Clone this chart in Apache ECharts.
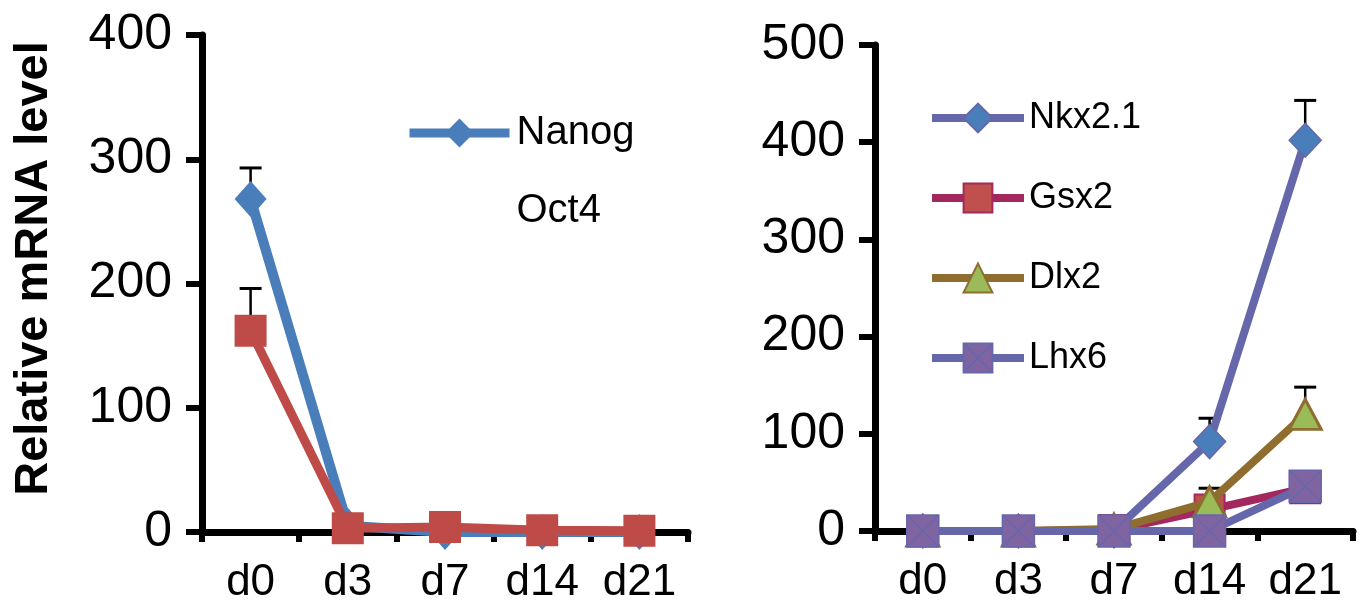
<!DOCTYPE html>
<html><head><meta charset="utf-8">
<script src="https://cdn.jsdelivr.net/npm/echarts@6/dist/echarts.min.js"></script>
<style>html,body{margin:0;padding:0;background:#fff}#c{width:1364px;height:614px}</style>
</head><body><div id="c"></div>
<script>
const categories = ['d0','d3','d7','d14','d21'];
const leftTicks = [0,100,200,300,400];
const rightTicks = [0,100,200,300,400,500];
const nanog = [268, 5, 0, 0, 0];
const nanogErr = [25, 0, 0, 0, 0];
const oct4 = [162, 3, 4, 1.5, 1];
const oct4Err = [34, 0, 0, 0, 0];
const nkx21 = [0, 0, 0, 92, 402];
const nkx21Err = [0, 0, 0, 24, 41];
const gsx2 = [0, 0, 1, 22, 44];
const dlx2 = [0, 0, 2, 30, 120];
const dlx2Err = [0, 0, 0, 14, 28];
const lhx6 = [0, 0, 0, 0, 46];

const FONT = '"Liberation Sans", Arial, sans-serif';
const chart = echarts.init(document.getElementById('c'));

function errData(vals, errs){
  const out = [];
  vals.forEach((v,i)=>{ if(errs[i]>0) out.push([i, v, v+errs[i]]); });
  return out;
}
function errSeries(ax, vals, errs){
  return {
    type:'custom', xAxisIndex:ax, yAxisIndex:ax, z:1, silent:true,
    data: errData(vals, errs), encode:{x:0, y:[1,2]},
    renderItem:(params, api)=>{
      const x = api.value(0);
      const lo = api.coord([x, api.value(1)]);
      const hi = api.coord([x, api.value(2)]);
      const w = 22;
      return {type:'group', children:[
        {type:'line', shape:{x1:lo[0], y1:lo[1], x2:hi[0], y2:hi[1]}, style:{stroke:'#000', lineWidth:2.5}},
        {type:'line', shape:{x1:hi[0]-w/2, y1:hi[1], x2:hi[0]+w/2, y2:hi[1]}, style:{stroke:'#000', lineWidth:3}}
      ]};
    }
  };
}
const crossSquare = 'path://M0,0 L20,0 L20,20 L0,20 Z M0,0 L20,20 M20,0 L0,20';

function xAxis(gi){
  return {
    type:'category', gridIndex:gi, data:categories, boundaryGap:true,
    axisLine:{lineStyle:{color:'#000', width:7}},
    axisTick:{show:true, inside:false, length:10, lineStyle:{color:'#000', width:6}},
    axisLabel:{color:'#000', fontFamily:FONT, fontSize:44, margin:29}
  };
}
function yAxis(gi, max, ticks){
  return {
    type:'value', gridIndex:gi, min:0, max:max, interval:100,
    axisLine:{show:true, lineStyle:{color:'#000', width:7}},
    axisTick:{show:true, inside:false, length:16, lineStyle:{color:'#000', width:6}},
    splitLine:{show:false},
    axisLabel:{color:'#000', fontFamily:FONT, fontSize:50, margin:30,
      customValues: ticks, formatter:v=>String(v)}
  };
}

const option = {
  backgroundColor:'#fff',
  animation:false,
  grid:[
    {left:202, right:676, top:35, bottom:82, containLabel:false},
    {left:875, right:11, top:45, bottom:83, containLabel:false}
  ],
  xAxis:[xAxis(0), xAxis(1)],
  yAxis:[
    Object.assign(yAxis(0, 400, leftTicks), {name:'Relative mRNA level', nameLocation:'middle', nameGap:144,
      nameTextStyle:{color:'#000', fontFamily:FONT, fontSize:47, fontWeight:'bold', padding:[0,0,0,30]}}),
    yAxis(1, 500, rightTicks)
  ],
  legend:[
    {left:405, top:113, padding:0, orient:'vertical', itemWidth:100, itemHeight:36, itemGap:38,
      lineStyle:{width:9},
      textStyle:{color:'#000', fontFamily:FONT, fontSize:40, lineHeight:40, padding:[0,0,0,2]},
      data:[{name:'Nanog'}, {name:'Oct4', itemStyle:{opacity:0}, lineStyle:{opacity:0}}]},
    {left:928, top:98, padding:0, orient:'vertical', itemWidth:92, itemHeight:36, itemGap:40,
      lineStyle:{width:8},
      textStyle:{color:'#000', fontFamily:FONT, fontSize:36, lineHeight:40},
      data:['Nkx2.1','Gsx2','Dlx2','Lhx6']}
  ],
  series:[
    errSeries(0, nanog, nanogErr),
    errSeries(0, oct4, oct4Err),
    errSeries(1, nkx21, nkx21Err),
    errSeries(1, dlx2, dlx2Err),
    {name:'Nanog', type:'line', xAxisIndex:0, yAxisIndex:0, data:nanog, z:3,
      symbol:'diamond', symbolSize:[32,36],
      lineStyle:{color:'#4A7EBB', width:10}, itemStyle:{color:'#4A7EBB'}},
    {name:'Oct4', type:'line', xAxisIndex:0, yAxisIndex:0, data:oct4, z:4,
      symbol:'rect', symbolSize:[32,32],
      lineStyle:{color:'#BE4B48', width:9}, itemStyle:{color:'#BE4B48'}},
    {name:'Nkx2.1', type:'line', xAxisIndex:1, yAxisIndex:1, data:nkx21, z:3,
      symbol:'diamond', symbolSize:[32,34],
      lineStyle:{color:'#6667AB', width:8}, itemStyle:{color:'#4A7EBB', borderColor:'#6667AB', borderWidth:1.5}},
    {name:'Gsx2', type:'line', xAxisIndex:1, yAxisIndex:1, data:gsx2, z:4,
      symbol:'rect', symbolSize:[30,30],
      lineStyle:{color:'#A2285E', width:8}, itemStyle:{color:'#C0504D', borderColor:'#A2285E', borderWidth:2}},
    {name:'Dlx2', type:'line', xAxisIndex:1, yAxisIndex:1, data:dlx2, z:5,
      symbol:'triangle', symbolSize:[32,30],
      lineStyle:{color:'#8E6D2E', width:8}, itemStyle:{color:'#9BBB59', borderColor:'#8E6D2E', borderWidth:3}},
    {name:'Lhx6', type:'line', xAxisIndex:1, yAxisIndex:1, data:lhx6, z:6,
      symbol:crossSquare, symbolSize:[32,32],
      lineStyle:{color:'#6667AB', width:8}, itemStyle:{color:'#8064A2', borderColor:'#6667AB', borderWidth:1.5}}
  ]
};
chart.setOption(option);
</script></body></html>
